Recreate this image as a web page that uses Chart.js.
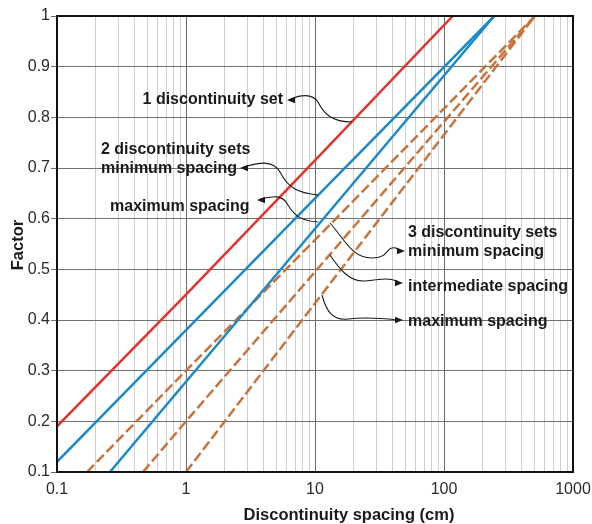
<!DOCTYPE html>
<html>
<head>
<meta charset="utf-8">
<script src="https://cdn.jsdelivr.net/npm/chart.js@4/dist/chart.umd.min.js"></script>
<style>
  html, body { margin: 0; padding: 0; background: #ffffff; }
  #wrap { width: 592px; height: 524px; position: relative; }
</style>
</head>
<body>
<div id="wrap"><canvas id="c" width="592" height="524"></canvas></div>
<script>
// ---- data ----
const set1X        = [0.1, 1, 10, 117];
const set1Y        = [0.19, 0.45, 0.715, 1.0];
const set2MinX     = [0.1, 1, 10, 245];
const set2MinY     = [0.12, 0.38, 0.64, 1.0];
const set2MaxX     = [0.257, 1, 10, 245];
const set2MaxY     = [0.1, 0.278, 0.58, 1.0];
const set3MinX     = [0.171, 1, 10, 507];
const set3MinY     = [0.1, 0.3, 0.558, 1.0];
const set3IntX     = [0.464, 1, 10, 507];
const set3IntY     = [0.1, 0.2, 0.495, 1.0];
const set3MaxX     = [1, 10, 507];
const set3MaxY     = [0.1, 0.433, 1.0];

const xDecades     = [0.1, 1, 10, 100, 1000];
const xTickLabels  = ['0.1', '1', '10', '100', '1000'];
const xMinorMult   = [2, 3, 4, 5, 6, 7, 8, 9];
const yTicks       = [0.1, 0.2, 0.3, 0.4, 0.5, 0.6, 0.7, 0.8, 0.9, 1];
const yTickLabels  = ['0.1', '0.2', '0.3', '0.4', '0.5', '0.6', '0.7', '0.8', '0.9', '1'];
const xTitle = 'Discontinuity spacing (cm)';
const yTitle = 'Factor';

const pts = (xs, ys) => xs.map((x, i) => ({ x: x, y: ys[i] }));

const RED = '#e8322c', BLUE = '#1b8ac8', ORANGE = '#c9733e';
const FONT = '"Liberation Sans", Arial, sans-serif';

const lineDs = (label, data, color, dash) => ({
  label, data, borderColor: color, backgroundColor: color, borderWidth: 2.5,
  borderDash: dash || [], showLine: true, pointRadius: 0, tension: 0
});

// annotation layout (pixels on the 592x524 canvas)
const annotations = [
  { lines: ['1 discontinuity set'], align: 'right', x: 283, y: 100,
    path: [[352,122],[332,122],[324,114],[318,102],[312,93],[300,95],[291,99]], head: [287,100], dir: -1 },
  { lines: ['2 discontinuity sets', 'minimum spacing'], align: 'left', x: 101, y: 150,
    path: [[318,195],[298,193],[288,188],[280,172],[272,158],[255,164],[244,167]], head: [240,168], dir: -1 },
  { lines: ['maximum spacing'], align: 'left', x: 110, y: 207,
    path: [[318,222],[303,221],[295,217],[288,205],[282,193],[270,197],[261,199]], head: [257,200], dir: -1 },
  { lines: ['3 discontinuity sets', 'minimum spacing'], align: 'left', x: 408, y: 233,
    path: [[330,223],[345,240],[352,258],[372,258],[390,258],[385,246],[396,248]], head: [405,251], dir: 1 },
  { lines: ['intermediate spacing'], align: 'left', x: 408, y: 287,
    path: [[330,255],[340,270],[350,282],[365,281],[380,280],[385,277],[397,281]], head: [403,283], dir: 1 },
  { lines: ['maximum spacing'], align: 'left', x: 408, y: 322,
    path: [[322,295],[326,310],[332,321],[348,319],[365,317],[380,318],[397,320]], head: [403,320], dir: 1 }
];

const overlay = {
  id: 'overlay',
  afterDraw(chart) {
    const ctx = chart.ctx, a = chart.chartArea;
    ctx.save();
    // frame
    ctx.strokeStyle = '#111';
    ctx.lineWidth = 2;
    ctx.strokeRect(a.left, a.top, a.right - a.left, a.bottom - a.top);

    // annotations
    ctx.fillStyle = '#1a1a1a';
    ctx.strokeStyle = '#1a1a1a';
    ctx.font = 'bold 16px ' + FONT;
    ctx.textBaseline = 'middle';
    annotations.forEach(an => {
      ctx.textAlign = an.align;
      an.lines.forEach((t, i) => ctx.fillText(t, an.x, an.y + i * 19));
      const p = an.path;
      ctx.lineWidth = 1.1;
      ctx.beginPath();
      ctx.moveTo(p[0][0], p[0][1]);
      ctx.bezierCurveTo(p[1][0], p[1][1], p[2][0], p[2][1], p[3][0], p[3][1]);
      ctx.bezierCurveTo(p[4][0], p[4][1], p[5][0], p[5][1], p[6][0], p[6][1]);
      ctx.lineTo(an.head[0] - an.dir * 5, an.head[1]);
      ctx.stroke();
      // arrow head
      const hx = an.head[0], hy = an.head[1], d = an.dir;
      ctx.beginPath();
      ctx.moveTo(hx, hy);
      ctx.lineTo(hx - d * 8, hy - 3.2);
      ctx.lineTo(hx - d * 8, hy + 3.2);
      ctx.closePath();
      ctx.fill();
    });

    // axis titles
    ctx.fillStyle = '#1a1a1a';
    ctx.font = 'bold 16.5px ' + FONT;
    ctx.textAlign = 'center';
    ctx.textBaseline = 'middle';
    ctx.fillText(xTitle, 349, 515);
    ctx.translate(18, 245);
    ctx.rotate(-Math.PI / 2);
    ctx.fillText(yTitle, 0, 0);
    ctx.restore();
  }
};

new Chart(document.getElementById('c'), {
  type: 'scatter',
  data: {
    datasets: [
      lineDs('1 discontinuity set', pts(set1X, set1Y), RED),
      lineDs('2 sets minimum spacing', pts(set2MinX, set2MinY), BLUE),
      lineDs('2 sets maximum spacing', pts(set2MaxX, set2MaxY), BLUE),
      lineDs('3 sets minimum spacing', pts(set3MinX, set3MinY), ORANGE, [10, 4]),
      lineDs('3 sets intermediate spacing', pts(set3IntX, set3IntY), ORANGE, [10, 4]),
      lineDs('3 sets maximum spacing', pts(set3MaxX, set3MaxY), ORANGE, [10, 4])
    ]
  },
  options: {
    responsive: false,
    animation: false,
    devicePixelRatio: 1,
    layout: { padding: { left: 0, right: 19, top: 16, bottom: 0 } },
    plugins: { legend: { display: false }, tooltip: { enabled: false }, title: { display: false } },
    scales: {
      x: {
        type: 'logarithmic',
        min: 0.1, max: 1000,
        afterBuildTicks(scale) {
          const t = [];
          xDecades.forEach((d, i) => {
            t.push({ value: d, major: true });
            if (i < xDecades.length - 1) xMinorMult.forEach(m => t.push({ value: d * m, major: false }));
          });
          scale.ticks = t;
        },
        afterFit(scale) { scale.height = 52; scale.paddingLeft = 0; scale.paddingRight = 0; },
        border: { display: false },
        grid: {
          drawTicks: false,
          color: c => (c.tick && c.tick.major) ? '#6b6b6b' : '#cfcfcf',
          lineWidth: 1
        },
        ticks: {
          autoSkip: false, maxRotation: 0, padding: 8,
          color: '#2a2a2a',
          font: { family: FONT, size: 16 },
          callback: (v) => { const i = xDecades.indexOf(v); return i >= 0 ? xTickLabels[i] : ''; }
        },
        title: { display: false }
      },
      y: {
        type: 'linear',
        min: 0.1, max: 1,
        afterBuildTicks(scale) { scale.ticks = yTicks.map(v => ({ value: v })); },
        afterFit(scale) { scale.width = 57; scale.paddingTop = 0; scale.paddingBottom = 0; },
        border: { display: false },
        grid: { color: '#707070', lineWidth: 1, tickLength: 6, tickColor: '#707070' },
        ticks: {
          padding: 1,
          color: '#2a2a2a',
          font: { family: FONT, size: 16 },
          callback: (v, i) => yTickLabels[i]
        },
        title: { display: false }
      }
    }
  },
  plugins: [overlay]
});
</script>
</body>
</html>
